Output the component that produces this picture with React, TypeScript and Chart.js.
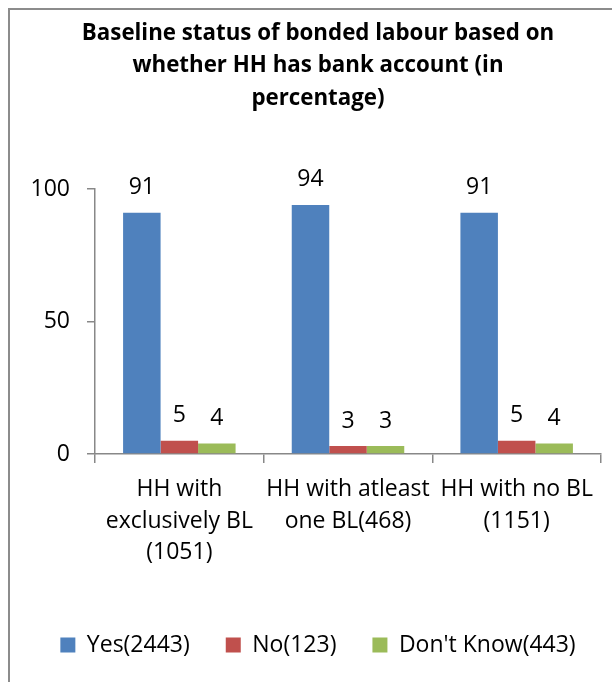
import React, { useEffect, useRef } from 'react';
import { Chart, registerables } from 'chart.js';

Chart.register(...registerables);

const titleLines = [
  'Baseline status of bonded labour based on',
  'whether HH has bank account (in',
  'percentage)',
];
const categories = [
  ['HH with', 'exclusively BL', '(1051)'],
  ['HH with atleast', 'one BL(468)'],
  ['HH with no BL', '(1151)'],
];
const seriesNames = ['Yes(2443)', 'No(123)', "Don't Know(443)"];
const yesValues = [91, 94, 91];
const noValues = [5, 3, 5];
const dontKnowValues = [4, 3, 4];
const yTicks = [0, 50, 100];

const FONT = '"Open Sans", "Noto Sans", sans-serif';
const AXIS = '#888888';

const valueLabels = {
  id: 'valueLabels',
  afterDatasetsDraw(chart: any) {
    const ctx = chart.ctx;
    ctx.save();
    ctx.font = `23px ${FONT}`;
    ctx.fillStyle = '#000000';
    ctx.textAlign = 'center';
    ctx.textBaseline = 'middle';
    chart.data.datasets.forEach((ds: any, i: number) => {
      const meta = chart.getDatasetMeta(i);
      meta.data.forEach((bar: any, j: number) => {
        ctx.fillText(String(ds.data[j]), bar.x, bar.y - 25);
      });
    });
    ctx.restore();
  },
};

export default function App() {
  const ref = useRef<HTMLCanvasElement | null>(null);

  useEffect(() => {
    if (!ref.current) return;
    const chart = new Chart(ref.current, {
      type: 'bar',
      data: {
        labels: categories,
        datasets: [
          { label: seriesNames[0], data: yesValues, backgroundColor: '#4F81BD' },
          { label: seriesNames[1], data: noValues, backgroundColor: '#C0504D' },
          { label: seriesNames[2], data: dontKnowValues, backgroundColor: '#9BBB59' },
        ],
      },
      options: {
        responsive: false,
        animation: false,
        layout: { padding: { left: 0, right: 0, top: 0, bottom: 15.5 } },
        datasets: {
          bar: { categoryPercentage: 0.667, barPercentage: 1.0 },
        },
        scales: {
          x: {
            offset: true,
            grid: {
              display: true,
              offset: true,
              drawOnChartArea: false,
              drawTicks: true,
              tickLength: 9,
              color: AXIS,
              lineWidth: 1.5,
            },
            border: { display: true, color: AXIS, width: 1.5 },
            ticks: {
              color: '#000000',
              font: { family: FONT, size: 23, lineHeight: 1.39 },
              padding: 10,
              maxRotation: 0,
              minRotation: 0,
              autoSkip: false,
            },
            afterFit: (scale: any) => {
              scale.height = 143.5;
            },
          },
          y: {
            min: 0,
            max: 100,
            afterBuildTicks: (scale: any) => {
              scale.ticks = yTicks.map((v) => ({ value: v }));
            },
            grid: {
              display: true,
              drawOnChartArea: false,
              drawTicks: true,
              tickLength: 8,
              color: AXIS,
              lineWidth: 1.5,
            },
            border: { display: true, color: AXIS, width: 1.5 },
            ticks: {
              color: '#000000',
              font: { family: FONT, size: 23 },
              padding: 17,
            },
            afterFit: (scale: any) => {
              scale.width = 85;
            },
          },
          yRight: {
            position: 'right',
            display: true,
            grid: { display: false, drawTicks: false },
            border: { display: false },
            ticks: { display: false },
            afterFit: (scale: any) => {
              scale.width = 25;
            },
          },
        },
        plugins: {
          tooltip: { enabled: false },
          title: {
            display: true,
            text: titleLines,
            color: '#000000',
            font: { family: FONT, size: 22.3, weight: 'bold', lineHeight: 32.5 / 22.3 },
            padding: { top: 7.25, bottom: 74.25 },
          },
          legend: {
            display: true,
            position: 'bottom',
            labels: {
              color: '#000000',
              font: { family: FONT, size: 23 },
              boxWidth: 15,
              boxHeight: 15,
              padding: 36,
            },
          },
        },
      },
      plugins: [valueLabels],
    } as any);
    return () => chart.destroy();
  }, []);

  return (
    <div
      style={{
        position: 'fixed',
        left: 8,
        top: 8,
        width: 604,
        height: 674,
        boxSizing: 'border-box',
        borderTop: '2px solid #8c8c8c',
        borderLeft: '2px solid #8c8c8c',
        overflow: 'hidden',
        background: '#ffffff',
      }}
    >
      <canvas ref={ref} width={616} height={672} style={{ display: 'block', width: 616, height: 672 }} />
    </div>
  );
}
